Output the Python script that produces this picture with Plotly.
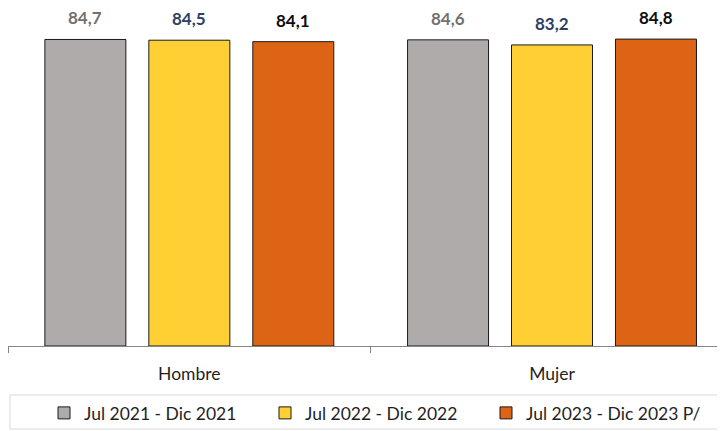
import plotly.graph_objects as go

categories = ["Hombre", "Mujer"]
series_names = ["Jul 2021 - Dic 2021", "Jul 2022 - Dic 2022", "Jul 2023 - Dic 2023 P/"]
values_2021 = [84.7, 84.6]
values_2022 = [84.5, 83.2]
values_2023 = [84.1, 84.8]

series_values = [values_2021, values_2022, values_2023]
bar_colors = ["#AFABAB", "#FFCF33", "#DC6414"]
label_colors = ["#727070", "#2E3F66", "#0D0D0D"]

# page body has an 8px margin; figure is drawn at (8, 8) in the window
W, H = 717, 423
ml, mr, mt, mb = 0, 0, 0, 85
x_range = [-0.5, 1.477]
y_range = [0, 93.4]
bargap = 0.14
bargroupgap = 0.221

fig = go.Figure()
for name, vals, col in zip(series_names, series_values, bar_colors):
    fig.add_trace(go.Bar(
        x=categories, y=vals, name=name,
        marker=dict(color=col, line=dict(color="#1A1A1A", width=1)),
        hoverinfo="skip",
    ))

# data labels as annotations above each bar
plot_w = W - ml - mr
plot_h = H - mt - mb
px_per_unit = plot_w / (x_range[1] - x_range[0])
slot_px = (1 - bargap) / 3 * px_per_unit
for i, (vals, lc) in enumerate(zip(series_values, label_colors)):
    for cat, v in zip(categories, vals):
        fig.add_annotation(
            x=cat, y=v, xref="x", yref="y",
            text="<b>" + f"{v:.1f}".replace(".", ",") + "</b>",
            showarrow=False, yanchor="bottom",
            xshift=(i - 1) * slot_px, yshift=9,
            font=dict(family="Lato", size=17, color=lc),
        )

# legend box
fig.add_shape(type="rect", xref="paper", yref="paper",
              x0=2 / plot_w, x1=(W + 10) / plot_w,
              y0=-(421 - plot_h) / plot_h, y1=-(387 - plot_h) / plot_h,
              line=dict(color="#D9D9D9", width=1), fillcolor="rgba(0,0,0,0)")

fig.update_layout(
    width=W, height=H,
    margin=dict(l=ml, r=mr, t=mt, b=mb),
    paper_bgcolor="white", plot_bgcolor="white",
    barmode="group", bargap=bargap, bargroupgap=bargroupgap,
    font=dict(family="Lato", size=17.5, color="#1F1F1F"),
    xaxis=dict(
        type="category", range=x_range,
        showline=True, linecolor="#868686", linewidth=1,
        ticks="outside", ticklen=6, tickcolor="#868686", tickson="boundaries",
        showgrid=False, zeroline=False,
        ticklabelstandoff=12,
        tickfont=dict(family="Lato", size=17.5, color="#1F1F1F"),
    ),
    yaxis=dict(range=y_range, visible=False, showgrid=False, zeroline=False),
    showlegend=True,
    legend=dict(
        orientation="h", xref="container", yref="container",
        x=36 / W, xanchor="left",
        y=(H - 405) / H, yanchor="middle",
        entrywidth=176, entrywidthmode="pixels",
        itemwidth=30,
        font=dict(family="Lato", size=17.5, color="#1F1F1F"),
        bgcolor="rgba(0,0,0,0)",
        traceorder="normal",
    ),
)

fig.write_html("out.html")
